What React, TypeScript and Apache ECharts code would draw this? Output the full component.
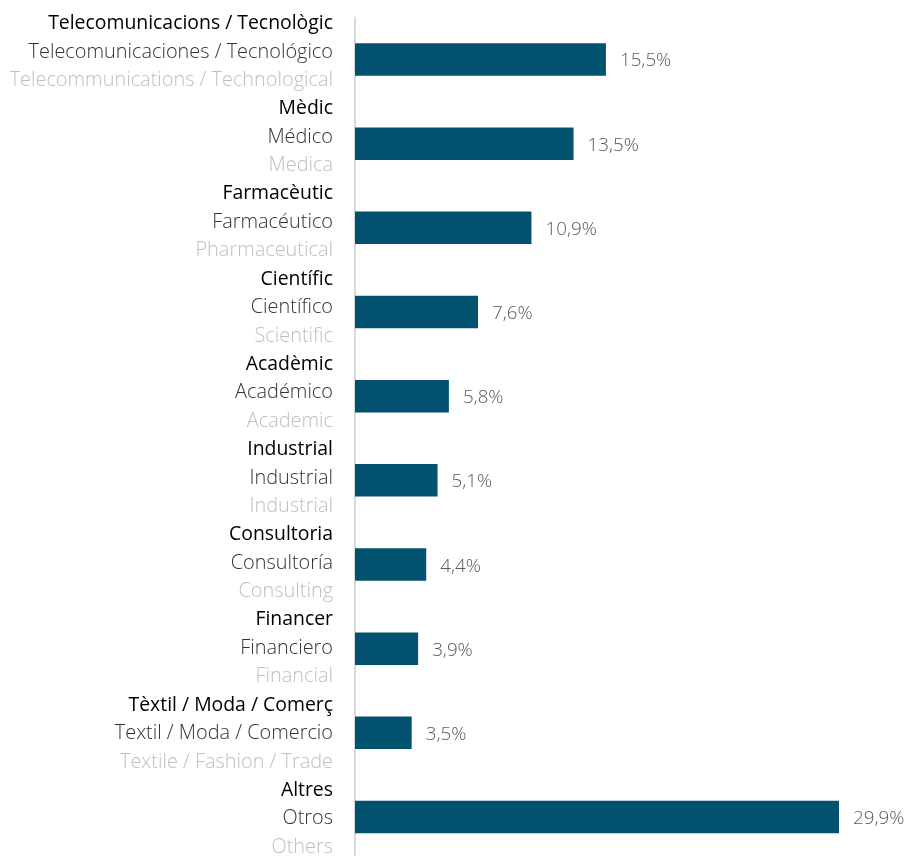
import React, { useEffect, useRef } from "react";
import * as echarts from "echarts";

const catalan = [
  "Telecomunicacions / Tecnològic",
  "Mèdic",
  "Farmacèutic",
  "Científic",
  "Acadèmic",
  "Industrial",
  "Consultoria",
  "Financer",
  "Tèxtil / Moda / Comerç",
  "Altres",
];
const spanish = [
  "Telecomunicaciones / Tecnológico",
  "Médico",
  "Farmacéutico",
  "Científico",
  "Académico",
  "Industrial",
  "Consultoría",
  "Financiero",
  "Textil / Moda / Comercio",
  "Otros",
];
const english = [
  "Telecommunications / Technological",
  "Medica",
  "Pharmaceutical",
  "Scientific",
  "Academic",
  "Industrial",
  "Consulting",
  "Financial",
  "Textile / Fashion / Trade",
  "Others",
];
const values = [15.5, 13.5, 10.9, 7.6, 5.8, 5.1, 4.4, 3.9, 3.5, 29.9];

const FONT = "'Open Sans', 'Noto Sans', sans-serif";

export default function App() {
  const ref = useRef<HTMLDivElement>(null);
  useEffect(() => {
    const chart = echarts.init(ref.current!, null, { renderer: "svg" });
    const keys = catalan.map((_, i) => String(i));
    chart.setOption({
      animation: false,
      grid: [
        { left: 355, top: 17.4, width: 518, height: 841.7 },
        { left: 355, top: 7.4, width: 518, height: 852 },
      ],
      xAxis: [
        { gridIndex: 0, type: "value", min: 0, max: 32, show: false },
        { gridIndex: 1, type: "value", min: 0, max: 32, show: false },
      ],
      yAxis: [
        {
          gridIndex: 0,
          type: "category",
          data: keys,
          inverse: true,
          axisLine: { show: true, lineStyle: { color: "#D9D9D9", width: 2 } },
          axisTick: { show: false },
          axisLabel: { show: false },
          splitLine: { show: false },
        },
        {
          gridIndex: 1,
          type: "category",
          data: keys,
          inverse: true,
          axisLine: { show: false },
          axisTick: { show: false },
          splitLine: { show: false },
          axisLabel: {
            margin: 22,
            align: "right",
            formatter: (v: string) => {
              const i = Number(v);
              return `{a|${catalan[i]}}\n{b|${spanish[i]}}\n{c|${english[i]}}`;
            },
            rich: {
              a: { color: "#000000", fontSize: 19.4, fontWeight: 400, lineHeight: 28.5, fontFamily: FONT },
              b: { color: "#333333", fontSize: 19.9, fontWeight: 300, lineHeight: 28.5, fontFamily: FONT },
              c: { color: "#BFBFBF", fontSize: 19.9, fontWeight: 300, lineHeight: 28.5, fontFamily: FONT },
            },
          },
        },
      ],
      series: [
        {
          type: "bar",
          xAxisIndex: 0,
          yAxisIndex: 0,
          data: values,
          barWidth: 32.5,
          itemStyle: { color: "#02526F" },
          label: {
            show: true,
            position: "right",
            distance: 14,
            color: "#595959",
            fontSize: 18.8,
            fontWeight: 300,
            fontFamily: FONT,
            formatter: (p: any) => p.value.toFixed(1).replace(".", ",") + "%",
          },
        },
      ],
    });
    return () => chart.dispose();
  }, []);
  return (
    <div
      ref={ref}
      style={{ position: "fixed", left: 0, top: 0, width: 912, height: 880 }}
    />
  );
}
